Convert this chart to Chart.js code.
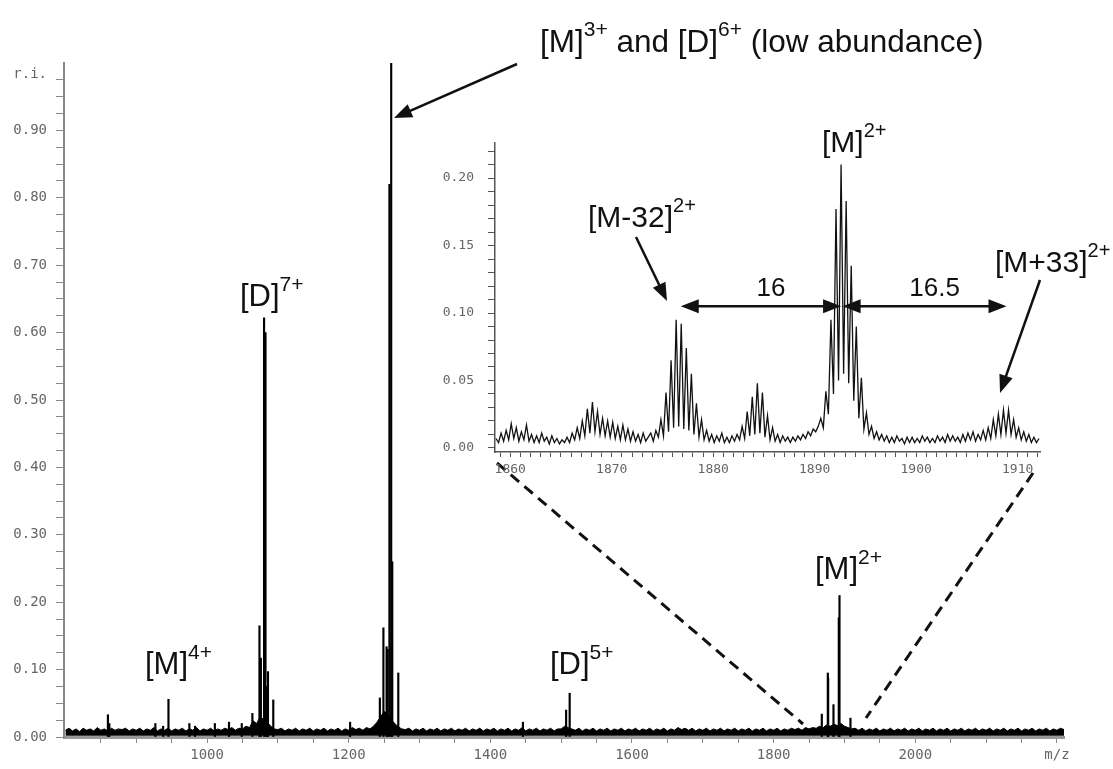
<!DOCTYPE html>
<html>
<head>
<meta charset="utf-8">
<script src="https://cdn.jsdelivr.net/npm/chart.js@4.4.1/dist/chart.umd.min.js"></script>
<style>
  html, body { margin: 0; padding: 0; background: #fff; }
  #wrap { position: relative; width: 1113px; height: 769px; overflow: hidden; }
  #mainChart { position: absolute; left: 0; top: 0; }
  #insetChart { position: absolute; left: 420px; top: 100px; }
</style>
</head>
<body>
<div id="wrap">
  <canvas id="mainChart" width="1113" height="769"></canvas>
  <canvas id="insetChart" width="693" height="400"></canvas>
</div>
<script>
// ---- full spectrum: centroid peaks (m/z, relative intensity) ----
const peakMz  = [860, 862, 927, 938, 945.5, 975, 983, 1011, 1031, 1049,
                 1064, 1074, 1076, 1080.5, 1082.5, 1084.5, 1086, 1093.5, 1202, 1244,
                 1249, 1253.5, 1255, 1257.5, 1260, 1261.5, 1270, 1446, 1507, 1512,
                 1868, 1876.5, 1877, 1884.5, 1892, 1893, 1908.5];
const peakInt = [0.033, 0.02, 0.02, 0.016, 0.056, 0.02, 0.016, 0.02, 0.022, 0.02,
                 0.035, 0.165, 0.117, 0.622, 0.60, 0.075, 0.097, 0.055, 0.022, 0.058,
                 0.162, 0.134, 0.13, 0.82, 1.0, 0.26, 0.095, 0.022, 0.04, 0.065,
                 0.034, 0.095, 0.088, 0.048, 0.177, 0.21, 0.028];

// baseline noise level, one value every 5 m/z from 800
const noiseStart = 800;
const noiseStep = 5;
const noiseTop = [
  0.010, 0.013, 0.009, 0.012, 0.008, 0.013, 0.010, 0.012, 0.009, 0.014, 0.010, 0.012, 0.009, 0.013, 0.010, 0.012, 0.011, 0.013, 0.009, 0.012,
  0.010, 0.013, 0.009, 0.012, 0.010, 0.014, 0.009, 0.012, 0.010, 0.013, 0.009, 0.012, 0.010, 0.013, 0.009, 0.012, 0.010, 0.014, 0.009, 0.012,
  0.010, 0.013, 0.009, 0.012, 0.010, 0.013, 0.011, 0.014, 0.010, 0.013, 0.012, 0.016, 0.014, 0.024, 0.020, 0.030, 0.026, 0.022, 0.016, 0.012,
  0.011, 0.013, 0.009, 0.012, 0.010, 0.013, 0.009, 0.012, 0.010, 0.013, 0.009, 0.012, 0.010, 0.013, 0.009, 0.012, 0.010, 0.013, 0.009, 0.012,
  0.010, 0.014, 0.011, 0.013, 0.010, 0.014, 0.012, 0.016, 0.022, 0.030, 0.038, 0.034, 0.026, 0.020, 0.015, 0.012, 0.011, 0.013, 0.009, 0.012,
  0.010, 0.013, 0.009, 0.012, 0.010, 0.013, 0.009, 0.012, 0.010, 0.013, 0.009, 0.012, 0.010, 0.013, 0.009, 0.012, 0.010, 0.013, 0.009, 0.012,
  0.010, 0.013, 0.009, 0.012, 0.010, 0.013, 0.009, 0.012, 0.010, 0.014, 0.009, 0.012, 0.010, 0.013, 0.009, 0.012, 0.010, 0.013, 0.009, 0.012,
  0.012, 0.016, 0.014, 0.012, 0.010, 0.013, 0.009, 0.012, 0.010, 0.013, 0.009, 0.012, 0.010, 0.013, 0.009, 0.012, 0.010, 0.013, 0.009, 0.012,
  0.010, 0.013, 0.009, 0.012, 0.010, 0.013, 0.009, 0.012, 0.010, 0.013, 0.009, 0.012, 0.010, 0.014, 0.011, 0.013, 0.010, 0.013, 0.009, 0.012,
  0.010, 0.013, 0.009, 0.012, 0.010, 0.013, 0.009, 0.012, 0.010, 0.013, 0.009, 0.012, 0.010, 0.013, 0.009, 0.012, 0.010, 0.013, 0.009, 0.012,
  0.010, 0.013, 0.009, 0.012, 0.010, 0.013, 0.011, 0.013, 0.010, 0.014, 0.012, 0.014, 0.013, 0.016, 0.014, 0.018, 0.016, 0.019, 0.017, 0.020,
  0.016, 0.014, 0.012, 0.013, 0.010, 0.013, 0.009, 0.012, 0.010, 0.013, 0.009, 0.012, 0.010, 0.013, 0.009, 0.012, 0.010, 0.013, 0.009, 0.012,
  0.010, 0.013, 0.009, 0.012, 0.010, 0.013, 0.009, 0.012, 0.010, 0.013, 0.009, 0.012, 0.010, 0.013, 0.009, 0.012, 0.010, 0.013, 0.009, 0.012,
  0.010, 0.013, 0.009, 0.012, 0.010, 0.013, 0.009, 0.012, 0.010, 0.013, 0.009, 0.012, 0.010, 0.013, 0.009, 0.012, 0.010, 0.013, 0.009, 0.012,
  0.010, 0.013, 0.011
];

// ---- inset: profile 1858.6 - 1912.1, one value every 0.25 m/z ----
const insetStart = 1858.6;
const insetStep = 0.25;
const insetInt = [
  0.007, 0.004, 0.011, 0.005,  0.013, 0.006, 0.018, 0.007,  0.015, 0.005, 0.012, 0.006,
  0.017, 0.005, 0.010, 0.004,  0.009, 0.004, 0.011, 0.005,  0.008, 0.003, 0.009, 0.004,
  0.007, 0.003, 0.006, 0.004,  0.008, 0.004, 0.011, 0.006,  0.015, 0.007, 0.020, 0.009,
  0.029, 0.011, 0.034, 0.012,  0.027, 0.010, 0.022, 0.009,  0.020, 0.008, 0.019, 0.007,
  0.016, 0.006, 0.017, 0.006,  0.014, 0.005, 0.012, 0.005,  0.010, 0.004, 0.011, 0.005,
  0.008, 0.011, 0.005, 0.013,  0.008, 0.021, 0.009, 0.041,  0.012, 0.065, 0.015, 0.095,
  0.016, 0.092, 0.014, 0.074,  0.013, 0.055, 0.010, 0.033,  0.008, 0.021, 0.006, 0.013,
  0.005, 0.010, 0.004, 0.009,  0.005, 0.011, 0.004, 0.008,  0.004, 0.009, 0.005, 0.010,
  0.006, 0.016, 0.007, 0.027,  0.009, 0.038, 0.010, 0.048,  0.011, 0.041, 0.008, 0.024,
  0.006, 0.015, 0.005, 0.010,  0.004, 0.009, 0.005, 0.008,  0.004, 0.008, 0.005, 0.009,
  0.006, 0.010, 0.007, 0.012,  0.009, 0.014, 0.012, 0.016,  0.022, 0.015, 0.042, 0.025,
  0.095, 0.040, 0.177, 0.050,  0.210, 0.055, 0.183, 0.048,  0.135, 0.035, 0.090, 0.022,
  0.052, 0.014, 0.026, 0.010,  0.016, 0.007, 0.012, 0.006,  0.010, 0.005, 0.009, 0.004,
  0.008, 0.004, 0.009, 0.005,  0.007, 0.003, 0.008, 0.004,  0.008, 0.004, 0.007, 0.004,
  0.009, 0.005, 0.008, 0.004,  0.007, 0.004, 0.009, 0.005,  0.008, 0.004, 0.010, 0.005,
  0.009, 0.005, 0.008, 0.004,  0.010, 0.005, 0.011, 0.006,  0.012, 0.005, 0.010, 0.006,
  0.013, 0.006, 0.015, 0.007,  0.021, 0.009, 0.025, 0.010,  0.028, 0.011, 0.028, 0.010,
  0.021, 0.008, 0.015, 0.006,  0.012, 0.005, 0.010, 0.004,  0.008, 0.004, 0.007
];

// tick labels
const mainXLabels = [1000, 1200, 1400, 1600, 1800, 2000];
const insetXLabels = [1860, 1870, 1880, 1890, 1900, 1910];
// m/z spacings marked in the inset: [from, to, label]
const spacings = [[1876.8, 1892.6, '16'], [1892.75, 1908.9, '16.5']];

const tickFont = { family: '"DejaVu Sans Mono", monospace', size: 14 };
const labelFont = '"Liberation Sans", Arial, sans-serif';
const INSET_X = 420, INSET_Y = 100;

function richText(ctx, parts, x, y, size) {
  let cx = x;
  ctx.textAlign = 'left';
  ctx.textBaseline = 'alphabetic';
  parts.forEach(([txt, sup]) => {
    const fs = sup ? Math.round(size * 0.68) : size;
    ctx.font = fs + 'px ' + labelFont;
    ctx.fillText(txt, cx, sup ? y - size * 0.5 : y);
    cx += ctx.measureText(txt).width;
  });
}

function head(ctx, fx, fy, tx, ty) {
  const a = Math.atan2(ty - fy, tx - fx), len = 18, half = 7;
  ctx.beginPath();
  ctx.moveTo(tx, ty);
  ctx.lineTo(tx - len * Math.cos(a) + half * Math.sin(a), ty - len * Math.sin(a) - half * Math.cos(a));
  ctx.lineTo(tx - len * Math.cos(a) - half * Math.sin(a), ty - len * Math.sin(a) + half * Math.cos(a));
  ctx.closePath();
  ctx.fill();
}

function arrow(ctx, fx, fy, tx, ty, both) {
  const a = Math.atan2(ty - fy, tx - fx);
  ctx.lineWidth = 2.5;
  ctx.beginPath();
  ctx.moveTo(both ? fx + 12 * Math.cos(a) : fx, both ? fy + 12 * Math.sin(a) : fy);
  ctx.lineTo(tx - 12 * Math.cos(a), ty - 12 * Math.sin(a));
  ctx.stroke();
  head(ctx, fx, fy, tx, ty);
  if (both) head(ctx, tx, ty, fx, fy);
}

const mainNotes = {
  id: 'mainNotes',
  afterDraw(chart) {
    const ctx = chart.ctx;
    ctx.save();
    ctx.fillStyle = '#111';
    ctx.strokeStyle = '#111';
    // zoom lines towards the inset
    ctx.lineWidth = 3;
    ctx.setLineDash([11, 7]);
    ctx.beginPath();
    ctx.moveTo(497, 463); ctx.lineTo(803, 724);
    ctx.moveTo(1033, 473); ctx.lineTo(866, 718);
    ctx.stroke();
    ctx.setLineDash([]);

    richText(ctx, [['[M]', 0], ['3+', 1], [' and [D]', 0], ['6+', 1], [' (low abundance)', 0]], 540, 52, 31.5);
    arrow(ctx, 517, 64, 394, 118, false);
    richText(ctx, [['[D]', 0], ['7+', 1]], 240, 306, 31);
    richText(ctx, [['[M]', 0], ['4+', 1]], 145, 674, 31);
    richText(ctx, [['[D]', 0], ['5+', 1]], 550, 674, 31);
    richText(ctx, [['[M]', 0], ['2+', 1]], 815, 579, 31);

    ctx.font = '14px ' + tickFont.family;
    ctx.fillStyle = '#666';
    ctx.textAlign = 'right';
    ctx.textBaseline = 'middle';
    ctx.fillText('r.i.', 47, 74);
    ctx.restore();
  }
};

const insetNotes = {
  id: 'insetNotes',
  afterDraw(chart) {
    const ctx = chart.ctx;
    const xs = chart.scales.x, ys = chart.scales.y;
    ctx.save();
    ctx.translate(-INSET_X, -INSET_Y);   // page coordinates from here
    ctx.fillStyle = '#111';
    ctx.strokeStyle = '#111';
    richText(ctx, [['[M]', 0], ['2+', 1]], 822, 152, 30);
    richText(ctx, [['[M-32]', 0], ['2+', 1]], 588, 227, 30);
    richText(ctx, [['[M+33]', 0], ['2+', 1]], 995, 272, 30);
    arrow(ctx, 636, 237, 667, 301, false);
    arrow(ctx, 1040, 280, 1000, 393, false);
    ctx.restore();

    ctx.save();
    ctx.fillStyle = '#111';
    ctx.strokeStyle = '#111';
    const yPix = ys.getPixelForValue(0.105);
    spacings.forEach(([a, b, txt]) => {
      const x1 = xs.getPixelForValue(a), x2 = xs.getPixelForValue(b);
      arrow(ctx, x1, yPix, x2, yPix, true);
      ctx.font = '26px ' + labelFont;
      ctx.textAlign = 'center';
      ctx.textBaseline = 'alphabetic';
      ctx.fillText(txt, (x1 + x2) / 2 + 10, yPix - 10);
    });
    ctx.restore();
  }
};

// main spectrum
const mainXTicks = [];
for (let v = 850; v <= 2200; v += 50) mainXTicks.push(v);
const mainYTicks = [];
for (let k = 0; k < 40; k++) mainYTicks.push(k * 0.025);

new Chart(document.getElementById('mainChart'), {
  type: 'line',
  data: {
    datasets: [
      {
        type: 'line',
        data: noiseTop.map((v, i) => ({ x: noiseStart + i * noiseStep, y: v })),
        borderColor: '#000',
        borderWidth: 1,
        backgroundColor: '#000',
        fill: { value: 0.002 },
        pointRadius: 0,
        tension: 0,
        order: 2
      },
      {
        type: 'bar',
        data: peakMz.map((m, i) => ({ x: m, y: peakInt[i] })),
        backgroundColor: '#000',
        borderWidth: 0,
        barThickness: 1.5,
        order: 1
      }
    ]
  },
  options: {
    responsive: false,
    animation: false,
    devicePixelRatio: 1,
    layout: { padding: { top: 63, right: 49, left: 0, bottom: 0 } },
    plugins: { legend: { display: false }, tooltip: { enabled: false } },
    scales: {
      x: {
        type: 'linear',
        min: 798,
        max: 2210,
        offset: false,
        afterBuildTicks: s => { s.ticks = mainXTicks.map(v => ({ value: v })); },
        afterFit: s => { s.height = 32; },
        grid: { drawOnChartArea: false, offset: false, tickLength: 6, color: '#888' },
        border: { color: '#999', width: 3 },
        ticks: {
          autoSkip: false, maxRotation: 0, padding: 4, color: '#666', font: tickFont,
          callback: v => v === 2200 ? 'm/z' : (mainXLabels.includes(v) ? String(v) : '')
        }
      },
      y: {
        min: 0,
        max: 1,
        afterBuildTicks: s => { s.ticks = mainYTicks.map(v => ({ value: v })); },
        afterFit: s => { s.width = 64; },
        grid: { drawOnChartArea: false, tickLength: 8, color: '#888' },
        border: { color: '#888', width: 2 },
        ticks: {
          autoSkip: false, padding: 9, color: '#666', font: tickFont,
          callback: v => Math.round(v / 0.025) % 4 === 0 ? v.toFixed(2) : ''
        }
      }
    }
  },
  plugins: [mainNotes]
});

// inset: zoom on the [M]2+ region
const insetXTicks = [];
for (let v = 1859; v <= 1912; v++) insetXTicks.push(v);
const insetYTicks = [];
for (let k = 0; k <= 22; k++) insetYTicks.push(k * 0.01);

new Chart(document.getElementById('insetChart'), {
  type: 'line',
  data: {
    datasets: [{
      data: insetInt.map((v, i) => ({ x: insetStart + i * insetStep, y: v })),
      borderColor: '#111',
      borderWidth: 1.3,
      pointRadius: 0,
      tension: 0,
      fill: false
    }]
  },
  options: {
    responsive: false,
    animation: false,
    devicePixelRatio: 1,
    layout: { padding: { top: 43, right: 73, left: 0, bottom: 0 } },
    plugins: { legend: { display: false }, tooltip: { enabled: false } },
    scales: {
      x: {
        type: 'linear',
        min: 1858.5,
        max: 1912.2,
        afterBuildTicks: s => { s.ticks = insetXTicks.map(v => ({ value: v })); },
        afterFit: s => { s.height = 48; },
        grid: { drawOnChartArea: false, tickLength: 5, color: '#555' },
        border: { color: '#555', width: 1.5 },
        ticks: {
          autoSkip: false, maxRotation: 0, padding: 5, color: '#666',
          font: { family: tickFont.family, size: 13 },
          callback: v => insetXLabels.includes(v) ? String(v) : ''
        }
      },
      y: {
        min: -0.003,
        max: 0.226,
        afterBuildTicks: s => { s.ticks = insetYTicks.map(v => ({ value: v })); },
        afterFit: s => { s.width = 75; },
        grid: { drawOnChartArea: false, tickLength: 7, color: '#555' },
        border: { color: '#555', width: 1.5 },
        ticks: {
          autoSkip: false, padding: 14, color: '#666',
          font: { family: tickFont.family, size: 13 },
          callback: v => Math.round(v / 0.01) % 5 === 0 ? v.toFixed(2) : ''
        }
      }
    }
  },
  plugins: [insetNotes]
});
</script>
</body>
</html>
